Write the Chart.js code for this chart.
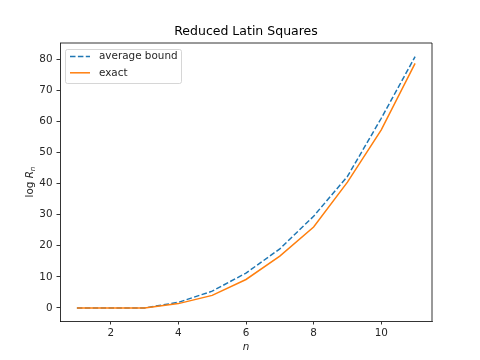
<!DOCTYPE html>
<html>
<head>
<meta charset="utf-8">
<script src="https://cdn.jsdelivr.net/npm/chart.js@4.4.1/dist/chart.umd.min.js"></script>
<style>
	html, body { margin: 0; padding: 0; background: #fff; }
</style>
</head>
<body>
<canvas id="chartLatin" width="480" height="360"></canvas>
<script>
// Data
const nValues = [1, 2, 3, 4, 5, 6, 7, 8, 9, 10, 11];
const averageBound = [0, 0, 0, 1.8, 5.4, 11.2, 19.0, 29.5, 42.3, 61.0, 80.8];
const exact = [0, 0, 0, 1.39, 4.03, 9.15, 16.65, 26.01, 40.47, 57.29, 78.66];
const seriesLabels = ["average bound", "exact"];
const xTicks = [2, 4, 6, 8, 10];
const yTicks = [0, 10, 20, 30, 40, 50, 60, 70, 80];

const fontFamily = "'DejaVu Sans', sans-serif";
const textColor = "#262626";
const axisColor = "#000";

// Turns two arrays into {x, y} points
function toPoints(xs, ys) {
	return xs.map((x, i) => ({ x, y: ys[i] }));
}

// Centers the title over the plot area instead of the whole canvas
const titleCenterPlugin = {
	id: "titleCenter",
	afterLayout(chart) {
		if (!chart.titleBlock) return;
		chart.titleBlock.left = chart.chartArea.left;
		chart.titleBlock.right = chart.chartArea.right;
	},
};

// Draws top and right spines, like matplotlib's box
const framePlugin = {
	id: "frame",
	afterDraw(chart) {
		const { ctx, chartArea } = chart;
		ctx.save();
		ctx.strokeStyle = axisColor;
		ctx.lineWidth = 0.8;
		ctx.beginPath();
		ctx.moveTo(chartArea.left, chartArea.top);
		ctx.lineTo(chartArea.right, chartArea.top);
		ctx.lineTo(chartArea.right, chartArea.bottom);
		ctx.stroke();
		ctx.restore();
	},
};

// Legend inside the plot, upper left, with a light frame
const legendPlugin = {
	id: "boxLegend",
	afterDraw(chart) {
		const { ctx, chartArea } = chart;
		const x0 = chartArea.left + 5;
		const y0 = chartArea.top + 6;
		ctx.save();
		ctx.beginPath();
		ctx.roundRect(x0 + 0.5, y0 + 0.5, 116, 34, 2);
		ctx.fillStyle = "rgba(255,255,255,0.8)";
		ctx.fill();
		ctx.strokeStyle = "#cccccc";
		ctx.lineWidth = 0.8;
		ctx.stroke();

		chart.data.datasets.forEach((ds, i) => {
			const y = y0 + 7.5 + i * 16.3;
			ctx.beginPath();
			ctx.setLineDash(ds.borderDash || []);
			ctx.strokeStyle = ds.borderColor;
			ctx.lineWidth = ds.borderWidth;
			ctx.moveTo(x0 + 5, y);
			ctx.lineTo(x0 + 25, y);
			ctx.stroke();
			ctx.setLineDash([]);
			ctx.fillStyle = textColor;
			ctx.font = "10.4px " + fontFamily;
			ctx.textBaseline = "middle";
			ctx.fillText(ds.label, x0 + 34, y);
		});
		ctx.restore();
	},
};

// y axis title: "log" upright, R italic, n as italic subscript
const yTitlePlugin = {
	id: "yTitle",
	afterDraw(chart) {
		const { ctx, chartArea } = chart;
		const parts = [
			{ text: "log ", font: "10.4px " + fontFamily, dy: 0 },
			{ text: "R", font: "italic 10.4px " + fontFamily, dy: 0 },
			{ text: "n", font: "italic 7.3px " + fontFamily, dy: 2 },
		];
		ctx.save();
		let total = 0;
		parts.forEach((p) => {
			ctx.font = p.font;
			p.w = ctx.measureText(p.text).width;
			total += p.w;
		});
		ctx.translate(33, (chartArea.top + chartArea.bottom) / 2);
		ctx.rotate(-Math.PI / 2);
		ctx.fillStyle = textColor;
		ctx.textBaseline = "alphabetic";
		let x = -total / 2;
		parts.forEach((p) => {
			ctx.font = p.font;
			ctx.fillText(p.text, x, p.dy);
			x += p.w;
		});
		ctx.restore();
	},
};

const axisGrid = {
	display: true,
	drawOnChartArea: false,
	drawTicks: true,
	tickLength: 3.5,
	tickWidth: 0.8,
	color: axisColor,
	lineWidth: 0.8,
};

new Chart(document.getElementById("chartLatin"), {
	type: "line",
	data: {
		datasets: [
			{
				label: seriesLabels[0],
				data: toPoints(nValues, averageBound),
				borderColor: "#1f77b4",
				backgroundColor: "#1f77b4",
				borderWidth: 1.5,
				borderDash: [5.5, 2.4],
				pointRadius: 0,
				tension: 0,
				order: 1,
			},
			{
				label: seriesLabels[1],
				data: toPoints(nValues, exact),
				borderColor: "#ff7f0e",
				backgroundColor: "#ff7f0e",
				borderWidth: 1.5,
				pointRadius: 0,
				tension: 0,
				order: 0,
			},
		],
	},
	options: {
		responsive: false,
		animation: false,
		layout: {
			padding: { left: 0, right: 48, top: 0, bottom: 0 },
		},
		plugins: {
			legend: { display: false },
			tooltip: { enabled: false },
			title: {
				display: true,
				text: "Reduced Latin Squares",
				color: "#000",
				font: { family: fontFamily, size: 12.5, weight: "normal" },
				padding: { top: 24.5, bottom: 3.5 },
			},
		},
		scales: {
			x: {
				type: "linear",
				min: 0.5,
				max: 11.5,
				grid: axisGrid,
				border: { display: true, color: axisColor, width: 0.8 },
				afterBuildTicks: (scale) => {
					scale.ticks = xTicks.map((v) => ({ value: v }));
				},
				afterFit: (scale) => {
					scale.height = 39;
				},
				ticks: {
					color: textColor,
					padding: 3,
					maxRotation: 0,
					font: { family: fontFamily, size: 10.4 },
				},
				title: {
					display: true,
					text: "n",
					color: textColor,
					font: { family: fontFamily, size: 10.4, style: "italic" },
					padding: { top: 0, bottom: 6.5 },
				},
			},
			y: {
				type: "linear",
				min: -4.2,
				max: 85.2,
				grid: axisGrid,
				border: { display: true, color: axisColor, width: 0.8 },
				afterBuildTicks: (scale) => {
					scale.ticks = yTicks.map((v) => ({ value: v }));
				},
				afterFit: (scale) => {
					scale.width = 60;
				},
				ticks: {
					color: textColor,
					padding: 4,
					font: { family: fontFamily, size: 10.4 },
				},
			},
		},
	},
	plugins: [titleCenterPlugin, framePlugin, legendPlugin, yTitlePlugin],
});
</script>
</body>
</html>
